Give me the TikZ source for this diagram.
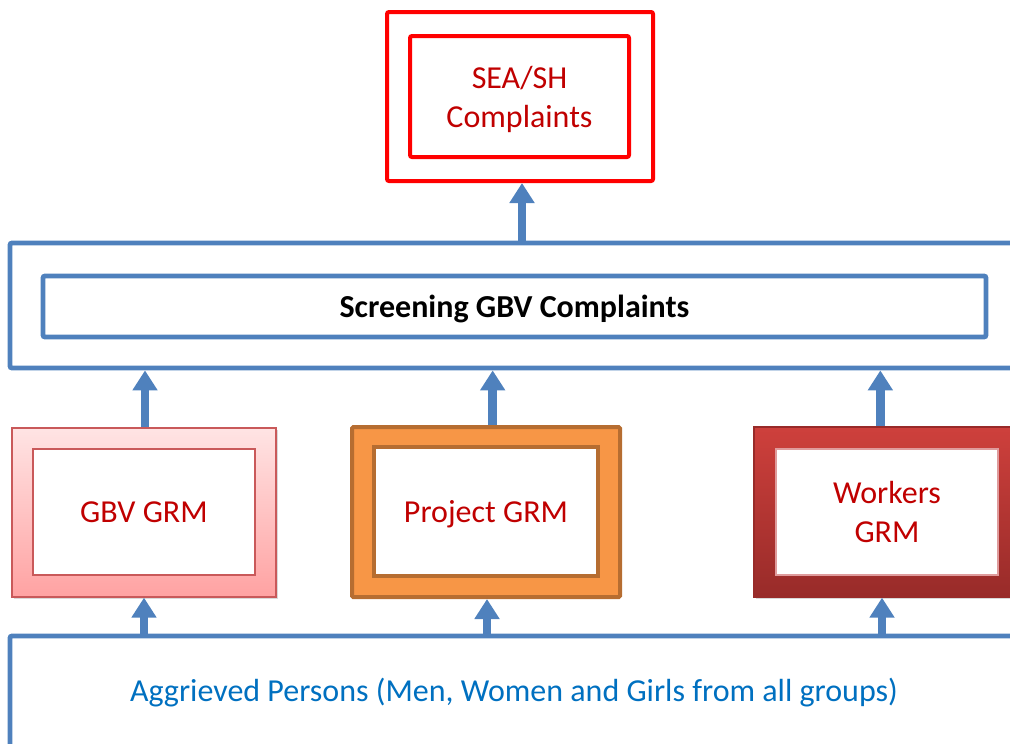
\documentclass[tikz,border=0pt]{standalone}
\usepackage{fontspec}
\setmainfont{Carlito}
\usetikzlibrary{arrows.meta,shadows}

\definecolor{lineblue}{HTML}{4F81BD}
\definecolor{darkred}{HTML}{C00000}
\definecolor{textblue}{HTML}{0070C0}
\definecolor{seared}{HTML}{FF0000}
\definecolor{pinktop}{HTML}{FFE4E4}
\definecolor{pinkbot}{HTML}{FFA2A2}
\definecolor{pinkline}{HTML}{C9595A}
\definecolor{orangefill}{HTML}{F79646}
\definecolor{orangeline}{HTML}{B66D31}
\definecolor{redtop}{HTML}{CE403C}
\definecolor{redbot}{HTML}{982B29}

\tikzset{
  txt/.style={font=\fontsize{24}{29.3}\selectfont, align=center, text depth=0pt},
  bluebox/.style={draw=lineblue, line width=3.6pt, rounded corners=1.5pt},
  seabox/.style={draw=seared, line width=3pt, rounded corners=1.5pt},
  innerwhite/.style={fill=white, minimum width=166.5pt, minimum height=94.5pt},
  upar/.style={draw=lineblue, line width=6.5pt,
    -{Triangle[width=18pt,length=15pt]}},
}

\begin{document}
\begin{tikzpicture}[x=0.75pt, y=-0.75pt]
  \useasboundingbox (0,0) rectangle (1010,743);
  \clip (0,0) rectangle (1010,743);

  % top
  \node[seabox, minimum width=199.5pt, minimum height=126.75pt] (seaout) at (520,96.5) {};
  \node[seabox, minimum width=164.25pt, minimum height=90.75pt, txt, text=darkred]
    (seain) at (519.5,96.5) {SEA/SH\\Complaints};

  % screening
  \node[bluebox, minimum width=772.5pt, minimum height=93.75pt] (scrout) at (525,305.5) {};
  \node[bluebox, minimum width=707.25pt, minimum height=45.75pt, txt]
    (scrin) at (514.5,306.5) {\bfseries Screening GBV Complaints};

  % the three grm
  \node[draw=pinkline, line width=1pt, top color=pinktop, bottom color=pinkbot,
    drop shadow={opacity=0.3, shadow xshift=1.5pt, shadow yshift=-1.5pt},
    minimum width=198pt, minimum height=126.75pt] (gbv) at (144,512.5) {};
  \node[innerwhite, draw=pinkline, line width=1pt, txt, text=darkred]
    (gbvin) at (144,512) {GBV GRM};

  \node[draw=orangeline, line width=3pt, fill=orangefill, rounded corners=1pt,
    minimum width=201pt, minimum height=127.5pt] (proj) at (486,512) {};
  \node[innerwhite, draw=orangeline, line width=3pt, minimum width=168pt,
    minimum height=96.75pt, txt, text=darkred] (projin) at (486,511.5) {Project GRM};

  \node[draw=redbot, line width=1pt, top color=redtop, bottom color=redbot,
    drop shadow={opacity=0.3, shadow xshift=1.5pt, shadow yshift=-1.5pt},
    minimum width=199.5pt, minimum height=127.5pt] (work) at (887,512) {};
  \node[innerwhite, draw=pinkline!60, line width=0.8pt, txt, text=darkred]
    (workin) at (887,512) {Workers\\GRM};

  % bottom
  \node[bluebox, minimum width=772.5pt, minimum height=84pt] (aggr) at (525,692) {};
  \node[txt, text=textblue] (aggrtxt) at (514,690)
    {Aggrieved Persons (Men, Women and Girls from all groups)};

  % arrows
  \draw[upar] ([xshift=1.5pt]seaout.south |- scrout.north) -- ([xshift=1.5pt]seaout.south);
  \draw[upar] ([xshift=0.75pt]gbv.north) -- ([xshift=0.75pt]gbv.north |- scrout.south);
  \draw[upar] ([xshift=5pt]proj.north) -- ([xshift=5pt]proj.north |- scrout.south);
  \draw[upar] ([xshift=-5pt]work.north) -- ([xshift=-5pt]work.north |- scrout.south);
  \draw[upar] (gbv.south |- aggr.north) -- (gbv.south);
  \draw[upar] ([xshift=0.75pt]proj.south |- aggr.north) -- ([xshift=0.75pt]proj.south);
  \draw[upar] ([xshift=-3.75pt]work.south |- aggr.north) -- ([xshift=-3.75pt]work.south);
\end{tikzpicture}
\end{document}
